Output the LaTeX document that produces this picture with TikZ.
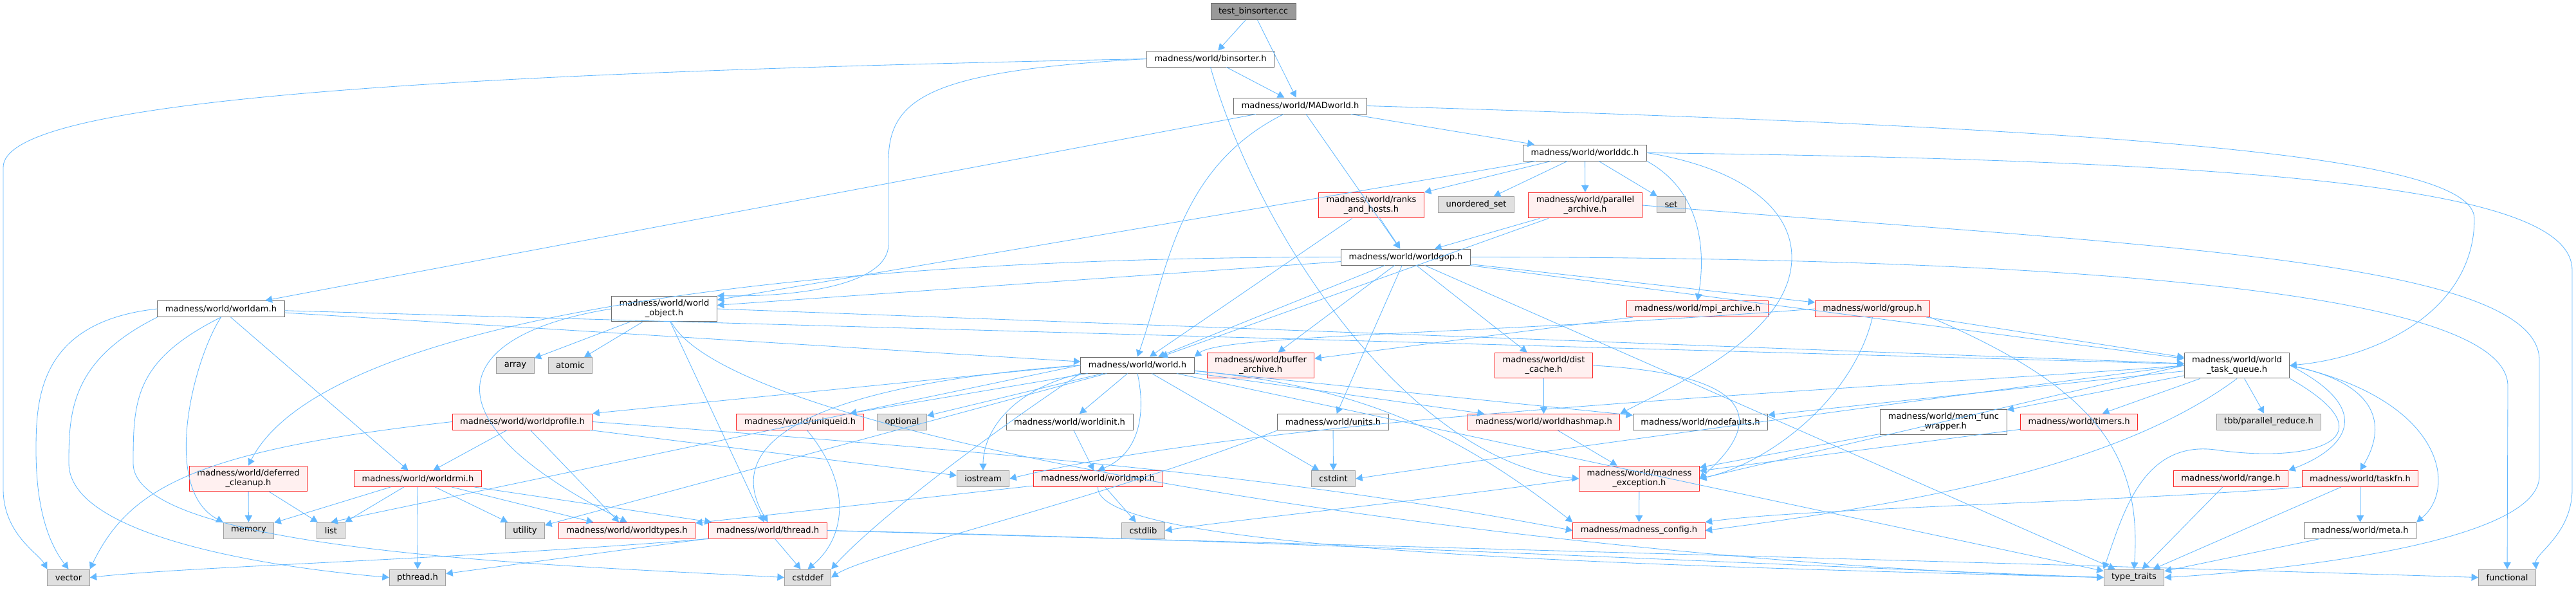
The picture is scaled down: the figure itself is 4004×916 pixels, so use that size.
\documentclass[tikz,border=0pt]{standalone}
\usepackage{fontspec}
\setmainfont{DejaVu Sans}
\usetikzlibrary{arrows.meta}
\definecolor{cRoot}{RGB}{153, 153, 153}
\definecolor{bRoot}{RGB}{102, 102, 102}
\definecolor{cHdr}{RGB}{255, 255, 255}
\definecolor{bHdr}{RGB}{110, 110, 110}
\definecolor{cTrunc}{RGB}{255, 240, 240}
\definecolor{bTrunc}{RGB}{250, 40, 40}
\definecolor{cSys}{RGB}{224, 224, 224}
\definecolor{bSys}{RGB}{160, 160, 160}
\definecolor{eLine}{RGB}{99, 184, 255}

\begin{document}
\begin{tikzpicture}[
    x=0.025cm, y=-0.025cm,
    font=\fontsize{9.3}{10.6}\selectfont,
    >={Triangle[length=0.26cm, width=0.28cm]},
    block/.style={
        draw=#1,
        line width=0.7pt,
        align=center,
        inner xsep=0.3cm,
        inner ysep=0.15cm,
        minimum height=0.625cm
    },
    arrow/.style={->, line width=0.6pt, color=eLine}
]
\useasboundingbox (0,0) rectangle (4004,916);

% top of the graph
\node[block=bRoot, fill=cRoot] (root) at (1948, 18) {test\_binsorter.cc};
\node[block=bHdr, fill=cHdr] (binsorter) at (1881.5, 91.5) {madness/world/binsorter.h};
\node[block=bHdr, fill=cHdr] (madworld) at (2021, 164.5) {madness/world/MADworld.h};
\node[block=bHdr, fill=cHdr] (worlddc) at (2463.5, 237.5) {madness/world/worlddc.h};

\node[block=bTrunc, fill=cTrunc] (ranks) at (2131.5, 319) {madness/world/ranks\\\_and\_hosts.h};
\node[block=bSys, fill=cSys] (uset) at (2294.5, 318) {unordered\_set};
\node[block=bTrunc, fill=cTrunc] (parchive) at (2464, 319) {madness/world/parallel\\\_archive.h};
\node[block=bSys, fill=cSys] (set) at (2597.5, 318) {set};
\node[block=bHdr, fill=cHdr] (worldgop) at (2185, 399.5) {madness/world/worldgop.h};

% middle rows
\node[block=bHdr, fill=cHdr] (worldam) at (343.5, 480) {madness/world/worldam.h};
\node[block=bHdr, fill=cHdr] (wobject) at (1032.5, 480) {madness/world/world\\\_object.h};
\node[block=bTrunc, fill=cTrunc] (mpiarch) at (2638.5, 480) {madness/world/mpi\_archive.h};
\node[block=bTrunc, fill=cTrunc] (group) at (2910.5, 480) {madness/world/group.h};

\node[block=bSys, fill=cSys] (array) at (801, 568) {array};
\node[block=bSys, fill=cSys] (atomic) at (886.5, 568) {atomic};
\node[block=bHdr, fill=cHdr] (worldh) at (1768, 567.5) {madness/world/world.h};
\node[block=bTrunc, fill=cTrunc] (bufarch) at (1959.5, 568) {madness/world/buffer\\\_archive.h};
\node[block=bTrunc, fill=cTrunc] (distcache) at (2399.5, 568) {madness/world/dist\\\_cache.h};
\node[block=bHdr, fill=cHdr] (wtq) at (3477, 568) {madness/world/world\\\_task\_queue.h};

\node[block=bTrunc, fill=cTrunc] (wprofile) at (812, 655.5) {madness/world/worldprofile.h};
\node[block=bTrunc, fill=cTrunc] (uniqueid) at (1243.5, 655.5) {madness/world/uniqueid.h};
\node[block=bSys, fill=cSys] (optional) at (1402, 655.5) {optional};
\node[block=bHdr, fill=cHdr] (worldinit) at (1662.5, 656) {madness/world/worldinit.h};
\node[block=bHdr, fill=cHdr] (units) at (2072, 656) {madness/world/units.h};
\node[block=bTrunc, fill=cTrunc] (hashmap) at (2399.5, 656) {madness/world/worldhashmap.h};
\node[block=bHdr, fill=cHdr] (nodefaults) at (2643, 656) {madness/world/nodefaults.h};
\node[block=bHdr, fill=cHdr] (memfunc) at (3021, 656) {madness/world/mem\_func\\\_wrapper.h};
\node[block=bTrunc, fill=cTrunc] (timers) at (3231.5, 655.5) {madness/world/timers.h};
\node[block=bSys, fill=cSys] (tbb) at (3526.5, 655.5) {tbb/parallel\_reduce.h};

\node[block=bTrunc, fill=cTrunc] (deferred) at (386, 744) {madness/world/deferred\\\_cleanup.h};
\node[block=bTrunc, fill=cTrunc] (worldrmi) at (649.5, 744) {madness/world/worldrmi.h};
\node[block=bSys, fill=cSys] (iostream) at (1528, 744) {iostream};
\node[block=bTrunc, fill=cTrunc] (worldmpi) at (1706.5, 744) {madness/world/worldmpi.h};
\node[block=bSys, fill=cSys] (cstdint) at (2072.5, 744) {cstdint};
\node[block=bTrunc, fill=cTrunc] (mexcept) at (2548, 744) {madness/world/madness\\\_exception.h};
\node[block=bTrunc, fill=cTrunc] (range) at (3467.5, 744) {madness/world/range.h};
\node[block=bTrunc, fill=cTrunc] (taskfn) at (3668.5, 744) {madness/world/taskfn.h};

\node[block=bSys, fill=cSys] (memory) at (386.5, 824.5) {memory};
\node[block=bSys, fill=cSys] (list) at (514.5, 824.5) {list};
\node[block=bSys, fill=cSys] (utility) at (816, 824.5) {utility};
\node[block=bTrunc, fill=cTrunc] (worldtypes) at (974.5, 824.5) {madness/world/worldtypes.h};
\node[block=bTrunc, fill=cTrunc] (thread) at (1193.5, 824.5) {madness/world/thread.h};
\node[block=bSys, fill=cSys] (cstdlib) at (1777, 824.5) {cstdlib};
\node[block=bTrunc, fill=cTrunc] (mconfig) at (2547.5, 824.5) {madness/madness\_config.h};
\node[block=bHdr, fill=cHdr] (meta) at (3668.5, 824.5) {madness/world/meta.h};

% bottom row
\node[block=bSys, fill=cSys] (vector) at (106.5, 897.5) {vector};
\node[block=bSys, fill=cSys] (pthread) at (649, 897.5) {pthread.h};
\node[block=bSys, fill=cSys] (cstddef) at (1255.5, 897.5) {cstddef};
\node[block=bSys, fill=cSys] (typetraits) at (3317, 897.5) {type\_traits};
\node[block=bSys, fill=cSys] (functional) at (3897, 897.5) {functional};

% test file and binsorter
\draw[arrow] (root) -- (binsorter);
\draw[arrow] (root) -- (madworld);
\draw[arrow] (binsorter) -- (madworld);
\draw[arrow] (binsorter.west) .. controls (600,115) and (5,160) .. (5,260) -- (5,760) .. controls (5,830) and (60,860) .. (vector.north west);
\draw[arrow] (binsorter.west) .. controls (1450,110) and (1381,150) .. (1381,250) -- (1381,380) .. controls (1381,440) and (1250,462) .. (wobject.north east);
\draw[arrow] (binsorter.south) .. controls (1960,380) and (2200,720) .. (mexcept.west);

% MADworld
\draw[arrow] (madworld) -- (worldam);
\draw[arrow] (madworld) .. controls (1830,260) and (1815,420) .. (worldh.north);
\draw[arrow] (madworld) -- (worldgop);
\draw[arrow] (madworld) -- (worlddc);
\draw[arrow] (madworld.east) .. controls (3300,200) and (3846,240) .. (3846,340) .. controls (3846,480) and (3700,555) .. (wtq.east);

% worlddc
\draw[arrow] (worlddc) -- (ranks);
\draw[arrow] (worlddc) -- (uset);
\draw[arrow] (worlddc) -- (parchive);
\draw[arrow] (worlddc) -- (set);
\draw[arrow] (worlddc.south east) .. controls (2650,300) and (2650,400) .. (mpiarch.north);
\draw[arrow] (worlddc.east) .. controls (2700,260) and (2785,320) .. (2785,400) .. controls (2785,520) and (2600,600) .. (hashmap.north east);
\draw[arrow] (worlddc.east) .. controls (3600,250) and (3998,300) .. (3998,420) -- (3998,760) .. controls (3998,830) and (3940,860) .. (functional.north east);
\draw[arrow] (worlddc) -- (wobject);

% ranks, parallel archive
\draw[arrow] (ranks) -- (worldgop);
\draw[arrow] (ranks) -- (worldh);
\draw[arrow] (parchive) -- (worldgop);
\draw[arrow] (parchive) -- (worldh);
\draw[arrow] (parchive.east) .. controls (3300,380) and (3947,400) .. (3947,560) -- (3947,740) .. controls (3947,850) and (3500,890) .. (typetraits.east);

% worldgop
\draw[arrow] (worldgop) -- (worldh);
\draw[arrow] (worldgop.west) .. controls (1200,400) and (500,500) .. (deferred.north);
\draw[arrow] (worldgop) -- (bufarch);
\draw[arrow] (worldgop) -- (units);
\draw[arrow] (worldgop) -- (distcache);
\draw[arrow] (worldgop) -- (group);
\draw[arrow] (worldgop) -- (wtq);
\draw[arrow] (worldgop) -- (wobject);
\draw[arrow] (worldgop.east) .. controls (3200,400) and (3898,450) .. (3898,600) -- (functional.north);
\draw[arrow] (worldgop) -- (typetraits);

% worldam
\draw[arrow] (worldam) -- (worldh);
\draw[arrow] (worldam) -- (wtq);
\draw[arrow] (worldam.west) .. controls (60,500) and (56,620) .. (56,700) .. controls (56,800) and (80,850) .. (vector.north);
\draw[arrow] (worldam.south west) .. controls (110,560) and (107,640) .. (107,720) .. controls (107,830) and (400,880) .. (pthread.west);
\draw[arrow] (worldam.south) .. controls (210,560) and (207,620) .. (207,720) .. controls (207,860) and (900,880) .. (cstddef.west);
\draw[arrow] (worldam.south) .. controls (300,560) and (250,760) .. (memory.north west);
\draw[arrow] (worldam) -- (worldrmi);

% world object
\draw[arrow] (wobject) -- (array);
\draw[arrow] (wobject) -- (atomic);
\draw[arrow] (wobject) -- (thread);
\draw[arrow] (wobject.east) -- (wtq);
\draw[arrow] (wobject.west) .. controls (700,520) and (650,650) .. (worldtypes.north);
\draw[arrow] (wobject) .. controls (1150,700) and (2500,880) .. (typetraits.west);

% mpi archive, group, dist cache
\draw[arrow] (mpiarch) -- (bufarch);
\draw[arrow] (group) -- (wtq);
\draw[arrow] (group.south) .. controls (2880,620) and (2750,720) .. (mexcept.east);
\draw[arrow] (group.south east) .. controls (3250,600) and (3330,700) .. (typetraits.north);
\draw[arrow] (group.west) .. controls (2300,520) and (1900,520) .. (worldh.north east);
\draw[arrow] (distcache) -- (hashmap);
\draw[arrow] (distcache.east) .. controls (2700,580) and (2760,640) .. (mexcept.east);

% world.h
\draw[arrow] (worldh) -- (optional);
\draw[arrow] (worldh.south west) .. controls (1560,610) and (1528,680) .. (iostream.north);
\draw[arrow] (worldh) -- (worldinit);
\draw[arrow] (worldh.south) .. controls (1785,660) and (1760,710) .. (worldmpi.north);
\draw[arrow] (worldh) -- (cstdint);
\draw[arrow] (worldh.west) -- (wprofile.north east);
\draw[arrow] (worldh) -- (uniqueid);
\draw[arrow] (worldh.west) .. controls (1250,600) and (1120,690) .. (thread.north);
\draw[arrow] (worldh) -- (utility);
\draw[arrow] (worldh.west) -- (list.north);
\draw[arrow] (worldh.south west) .. controls (1500,700) and (1350,820) .. (cstddef.north east);
\draw[arrow] (worldh) -- (hashmap);
\draw[arrow] (worldh) -- (nodefaults);
\draw[arrow] (worldh) .. controls (2100,600) and (2250,660) .. (mconfig.north west);
\draw[arrow] (worldh) -- (typetraits);

% worldinit, worldprofile, uniqueid
\draw[arrow] (worldinit) -- (worldmpi);
\draw[arrow] (wprofile) -- (worldrmi);
\draw[arrow] (wprofile) -- (worldtypes);
\draw[arrow] (wprofile.west) .. controls (300,700) and (200,760) .. (vector.north east);
\draw[arrow] (wprofile) -- (iostream);
\draw[arrow] (wprofile.east) .. controls (1800,720) and (2100,760) .. (mconfig.west);
\draw[arrow] (uniqueid) .. controls (1330,760) and (1310,840) .. (cstddef.north);

% worldrmi, deferred cleanup
\draw[arrow] (worldrmi) -- (memory);
\draw[arrow] (worldrmi) -- (list);
\draw[arrow] (worldrmi) -- (pthread);
\draw[arrow] (worldrmi) -- (utility);
\draw[arrow] (worldrmi) -- (worldtypes);
\draw[arrow] (worldrmi) -- (thread);
\draw[arrow] (deferred) -- (memory);
\draw[arrow] (deferred) -- (list);

% worldmpi, thread
\draw[arrow] (worldmpi) -- (cstdlib);
\draw[arrow] (worldmpi) -- (worldtypes);
\draw[arrow] (worldmpi.south) .. controls (1700,860) and (2600,880) .. (typetraits.west);
\draw[arrow] (thread) -- (cstddef);
\draw[arrow] (thread.south west) .. controls (700,870) and (300,880) .. (vector.east);
\draw[arrow] (thread) -- (pthread);
\draw[arrow] (thread.east) .. controls (2000,840) and (2800,880) .. (typetraits.west);
\draw[arrow] (thread.east) .. controls (2200,850) and (3300,880) .. (functional.west);

% units, hashmap, exception
\draw[arrow] (units) -- (cstdint);
\draw[arrow] (units.south west) .. controls (1700,780) and (1350,860) .. (cstddef.east);
\draw[arrow] (hashmap) -- (mexcept);
\draw[arrow] (mexcept) -- (mconfig);
\draw[arrow] (mexcept.west) .. controls (2200,780) and (1900,810) .. (cstdlib.east);

% task queue
\draw[arrow] (wtq) -- (tbb);
\draw[arrow] (wtq.east) .. controls (3700,640) and (3640,700) .. (range.north east);
\draw[arrow] (wtq.east) .. controls (3720,600) and (3700,680) .. (taskfn.north);
\draw[arrow] (wtq.east) .. controls (3800,620) and (3820,760) .. (meta.north east);
\draw[arrow] (wtq) -- (timers);
\draw[arrow] (wtq) -- (memfunc);
\draw[arrow] (wtq) -- (nodefaults);
\draw[arrow] (wtq.west) .. controls (3000,600) and (2000,640) .. (iostream.east);
\draw[arrow] (wtq.west) -- (mexcept.east);
\draw[arrow] (wtq.west) .. controls (3000,620) and (2400,700) .. (cstdint.east);
\draw[arrow] (wtq.south) .. controls (3300,720) and (3000,780) .. (mconfig.east);
\draw[arrow] (wtq.south east) .. controls (3720,680) and (3600,720) .. (3450,700) .. controls (3330,680) and (3300,800) .. (typetraits.north west);

% leaves near the right
\draw[arrow] (taskfn) -- (meta);
\draw[arrow] (taskfn) -- (typetraits);
\draw[arrow] (taskfn.south west) .. controls (3300,780) and (2800,790) .. (mconfig.north east);
\draw[arrow] (range) -- (typetraits);
\draw[arrow] (meta) -- (typetraits);
\draw[arrow] (memfunc) -- (mexcept);
\draw[arrow] (timers) -- (mexcept);

\end{tikzpicture}
\end{document}
